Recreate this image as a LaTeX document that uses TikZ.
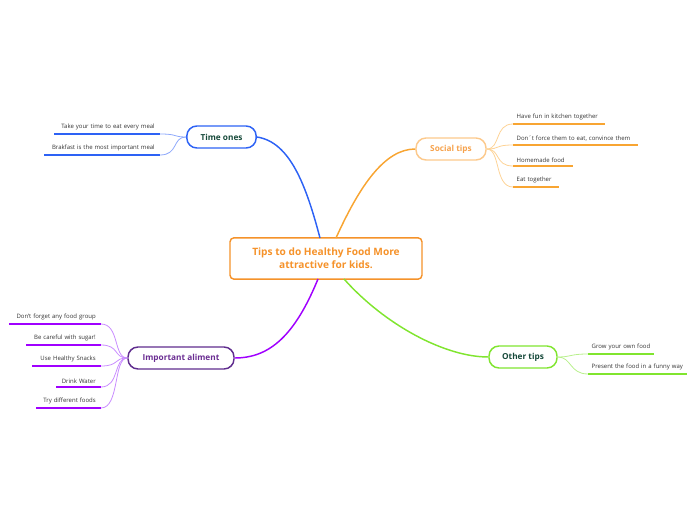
\documentclass[tikz,border=0pt]{standalone}
\usepackage{fontspec}
\setmainfont{Open Sans}
\definecolor{corange}{HTML}{F5922A}
\definecolor{cblue}{HTML}{2D62F5}
\definecolor{cblueL}{HTML}{8FA9FB}
\definecolor{cdark}{HTML}{16493A}
\definecolor{sorangeB}{HTML}{FCC98C}
\definecolor{sorangeT}{HTML}{F6A24C}
\definecolor{sorange}{HTML}{F8A532}
\definecolor{sorangeL}{HTML}{FDD396}
\definecolor{cpurple}{HTML}{A000FF}
\definecolor{cpurpleB}{HTML}{5F2C8E}
\definecolor{cpurpleT}{HTML}{6A2D92}
\definecolor{cpurpleL}{HTML}{C98CFF}
\definecolor{cgreen}{HTML}{80E52F}
\definecolor{cgreenL}{HTML}{B8F08C}
\definecolor{leaftext}{HTML}{333333}
\tikzset{
  x=0.75pt, y=-0.75pt,
  topic/.style={draw, line width=1.1pt, rounded corners=7.5pt, font=\fontsize{6.2}{7}\selectfont\bfseries, minimum height=16.5pt, inner sep=0pt},
  leafR/.style={anchor=south west, inner xsep=2.6pt, inner ysep=2.6pt, font=\fontsize{4.5}{5}\selectfont, text=leaftext, align=left},
  leafL/.style={anchor=south east, inner xsep=3.75pt, inner ysep=2.6pt, font=\fontsize{4.5}{5}\selectfont, text=leaftext, align=right},
  ul/.style={line width=1.5pt},
  main/.style={line width=1.1pt},
  twig/.style={line width=0.6pt}
}
\begin{document}
\begin{tikzpicture}
\useasboundingbox (0,0) rectangle (696,520);
% central
\node[draw=corange, line width=1.1pt, rounded corners=3pt, text=corange, font=\fontsize{7.6}{10}\selectfont\bfseries, align=center, minimum width=144pt, minimum height=31pt, inner sep=0pt] (c) at (326,258.5) {Tips to do Healthy Food More\\attractive for kids.};
% topics
\node[topic, draw=cblue, text=cdark, minimum width=52pt] (t1) at (221.5,137) {Time ones};
\node[topic, draw=sorangeB, text=sorangeT, minimum width=52.5pt] (t2) at (451,149) {Social tips};
\node[topic, draw=cpurpleB, text=cpurpleT, minimum width=79.5pt] (t3) at (181,358) {Important aliment};
\node[topic, draw=cgreen, text=cdark, minimum width=51pt] (t4) at (523,357) {Other tips};
% main connectors
\coordinate (c1) at (320,238);
\coordinate (c2) at (336,238);
\coordinate (c3) at (318,279);
\coordinate (c4) at (344,279);
\draw[main, cblue] (c1) .. controls (306,185) and (290,142) .. (t1.east);
\draw[main, sorange] (c2) .. controls (360,185) and (385,149) .. (t2.west);
\draw[main, cpurple] (c3) .. controls (295,335) and (270,358) .. (t3.east);
\draw[main, cgreen] (c4) .. controls (385,325) and (445,357) .. (t4.west);
% Time ones leaves
\node[leafL, text width=78.75pt-7.5pt] (a1) at (160,134) {\mbox{Take your time to eat every meal}};
\node[leafL, text width=86.25pt-7.5pt] (a2) at (160,155) {\mbox{Brakfast is the most important meal}};
\foreach \n in {a1,a2}{
  \draw[ul, cblue] (\n.south west) -- (\n.south east);
  \draw[twig, cblueL] (t1.west) .. controls +(-14,0) and ([xshift=14]\n.south east) .. (\n.south east);
}
% Social leaves
\node[leafR, text width=68.25pt-5.2pt] (b1) at (513,124) {\mbox{Have fun in kitchen together}};
\node[leafR, text width=93pt-5.2pt] (b2) at (513,145) {\mbox{Don´t force them to eat, convince them}};
\node[leafR, text width=44.25pt-5.2pt] (b3) at (513,166) {\mbox{Homemade food}};
\node[leafR, text width=33.75pt-5.2pt] (b4) at (513,187) {\mbox{Eat together}};
\foreach \n in {b1,b2,b3,b4}{
  \draw[ul, sorange] (\n.south west) -- (\n.south east);
  \draw[twig, sorangeL] (t2.east) .. controls +(14,0) and ([xshift=-14]\n.south west) .. (\n.south west);
}
% Important aliment leaves
\node[leafL, text width=68.25pt-7.5pt] (d1) at (101,324) {\mbox{Don't forget any food group}};
\node[leafL, text width=55.5pt-7.5pt] (d2) at (101,345) {\mbox{Be careful with sugar!}};
\node[leafL, text width=51pt-7.5pt] (d3) at (101,366) {\mbox{Use Healthy Snacks}};
\node[leafL, text width=33pt-7.5pt] (d4) at (101,387) {\mbox{Drink Water}};
\node[leafL, text width=48pt-7.5pt] (d5) at (101,408) {\mbox{Try different foods}};
\foreach \n in {d1,d2,d3,d4,d5}{
  \draw[ul, cpurple] (\n.south west) -- (\n.south east);
  \draw[twig, cpurpleL] (t3.west) .. controls +(-14,0) and ([xshift=14]\n.south east) .. (\n.south east);
}
% Other tips leaves
\node[leafR, text width=48.75pt-5.2pt] (e1) at (588,354) {\mbox{Grow your own food}};
\node[leafR, text width=73.5pt-5.2pt] (e2) at (588,374) {\mbox{Present the food in a funny way}};
\foreach \n in {e1,e2}{
  \draw[ul, cgreen] (\n.south west) -- (\n.south east);
  \draw[twig, cgreenL] (t4.east) .. controls +(14,0) and ([xshift=-14]\n.south west) .. (\n.south west);
}
\end{tikzpicture}
\end{document}
